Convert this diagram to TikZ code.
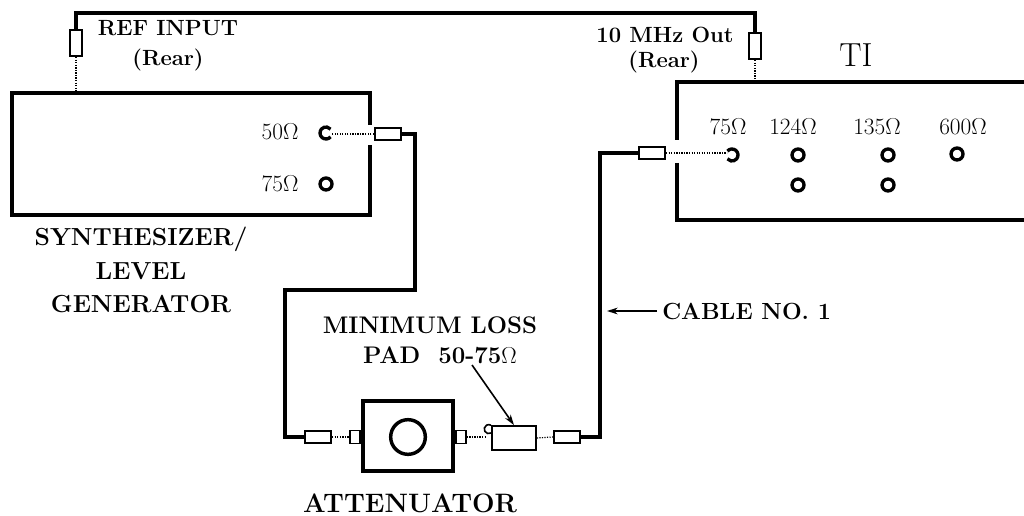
\documentclass[tikz,border=0pt]{standalone}
\usepackage{fontspec}
\usetikzlibrary{arrows.meta}
\newcommand\lblsz[1]{\bfseries\fontsize{#1}{25}\selectfont\addfontfeature{FakeStretch=1.05}}
\begin{document}
\begin{tikzpicture}[x=0.75pt,y=-0.75pt,
  thickw/.style={line width=3.2pt,line join=miter},
  boxw/.style={line width=3.4pt},
  dots/.style={densely dotted,line width=0.9pt},
  plugh/.style={draw,line width=1.3pt,fill=white,minimum width=20pt,minimum height=9pt,inner sep=0pt},
  plugv/.style={draw,line width=1.3pt,fill=white,minimum width=9pt,minimum height=20pt,inner sep=0pt},
  sq/.style={draw,line width=1.2pt,fill=white,minimum width=7.5pt,minimum height=10pt,inner sep=0pt},
  jack/.style={circle,draw,line width=2.5pt,minimum size=9pt,inner sep=0pt},
  lbl/.style={font=\lblsz{16.5},inner sep=0pt,align=center},
  ohm/.style={font=\fontsize{17.5}{18}\selectfont,inner sep=0pt}
]
\useasboundingbox (0,0) rectangle (1024,516);
% synthesizer box
\coordinate (sNW) at (12,93);
\coordinate (sSE) at (370,215);
\draw[boxw] (370,125) -- (sSE |- sNW) -- (sNW) -- (sNW |- sSE) -- (sSE) -- (370,145);
% TI box
\coordinate (tNW) at (677,82);
\coordinate (tSE) at (1040,220);
\draw[boxw] (tSE |- tNW) -- (tNW) -- (677,140);
\draw[boxw] (677,163) -- (tNW |- tSE) -- (tSE);
% jacks synthesizer
\node[jack,draw=none] (s50) at (326,133) {};
\draw[line width=2.5pt] (s50.center) ++(40:6) arc[start angle=40,end angle=320,radius=6];
\node[jack] (s75) at (326,184) {};
\node[ohm] (t50) at (280,132) {50$\Omega$};
\node[ohm] (t75) at (280,184) {75$\Omega$};
% jacks TI
\node[jack,draw=none] (ti75) at (732,155) {};
\draw[line width=2.5pt] (ti75.center) ++(220:6) arc[start angle=220,end angle=500,radius=6];
\node[jack] (ti124a) at (798,155) {};
\node[jack] (ti135a) at (888,155) {};
\node[jack] (ti600) at (957,154) {};
\node[jack] (ti124b) at (798,185) {};
\node[jack] (ti135b) at (888,185) {};
\node[ohm] (l75) at (728,127) {75$\Omega$};
\node[ohm] (l124) at (793,127) {124$\Omega$};
\node[ohm] (l135) at (877,127) {135$\Omega$};
\node[ohm] (l600) at (963,127) {600$\Omega$};
\node[font=\fontsize{25}{28}\selectfont,inner sep=0pt] (ti) at (856,55) {TI};
% rear reference connection
\node[plugv] (refplug) at (76,43) {};
\node[plugv] (outplug) at (755,46) {};
\coordinate (topL) at (76,13);
\coordinate (topR) at (755,13);
\draw[thickw] (refplug.north) -- (topL) -- (topR) -- (outplug.north);
\draw[dots] (refplug.south) -- (refplug.south |- sNW);
\draw[dots] (outplug.south) -- (outplug.south |- tNW);
\node[lbl] (refin) at (168,28) {REF INPUT};
\node[lbl] (refr) at (168,60) {(Rear)};
\node[lbl] (mhz) at (665,35) {10 MHz Out};
\node[lbl] (mhzr) at (664,62) {(Rear)};
% cable from synthesizer
\node[plugh] (plugA) at (388,134) {};
\draw[dots] (plugA.west) -- (331,134);
\coordinate (c1) at (415,134);
\coordinate (c2) at (415,290);
\coordinate (c3) at (285,290);
\coordinate (c4) at (285,437);
\node[plugh] (plugB) at (318,437) {};
\draw[thickw] (plugA.east) -- (c1) -- (c2) -- (c3) -- (c4) -- (plugB.west);
% attenuator
\node[draw,line width=3pt,minimum width=68pt,minimum height=53pt,inner sep=0pt] (atten) at (408,436) {};
\node[circle,draw,line width=2.6pt,minimum size=26pt,inner sep=0pt] (knob) at (408,437) {};
\node[sq] (sqL) at (355,437) {};
\node[sq] (sqR) at (461,437) {};
\draw[dots] (plugB.east) -- (sqL.west);
\node[plugh,minimum width=33pt,minimum height=18pt] (pad) at (514,438) {};
\draw[dots] (sqR.east) -- (486,437);
\draw[line width=1.2pt] (491,433) arc[start angle=60,end angle=300,radius=4.5];
\node[plugh] (plugC) at (567,437) {};
\draw[dots] (pad.east) -- (plugC.west);
% cable no. 1
\coordinate (d1) at (600,437);
\coordinate (d2) at (600,153);
\node[plugh] (plugD) at (652,153) {};
\draw[thickw] (plugC.east) -- (d1) -- (d2) -- (plugD.west);
\draw[dots] (plugD.east) -- (727,153);
% labels
\node[lbl,font=\lblsz{18.5}] (synth) at (141,270) {SYNTHESIZER/\\LEVEL\\GENERATOR};
\node[lbl,font=\lblsz{18}] (mll) at (430,325) {MINIMUM LOSS};
\node[lbl,font=\lblsz{18}] (pad50) at (440,355) {PAD\ \ 50-75$\Omega$};
\node[lbl,font=\lblsz{20}] (attl) at (410,503) {ATTENUATOR};
\node[lbl,font=\lblsz{17.5},anchor=west] (cable) at (662,311) {CABLE NO. 1};
\draw[-{Stealth[length=8pt,width=5pt]},line width=1.2pt] (472,365) -- (pad.north);
\draw[-{Stealth[length=8pt,width=5pt]},line width=1.2pt] (cable.west) ++(-5,0) -- (607,311);
\end{tikzpicture}
\end{document}
